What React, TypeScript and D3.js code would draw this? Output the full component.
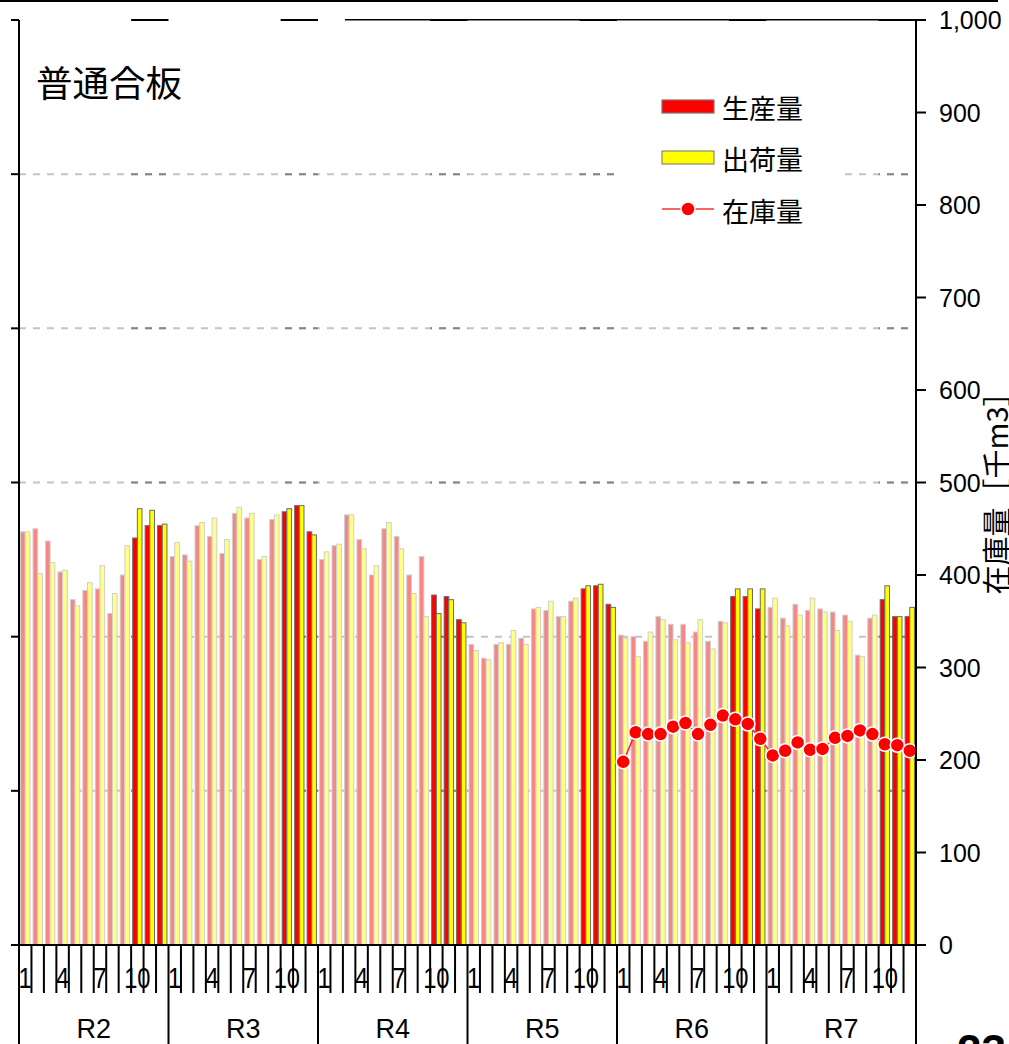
import React from 'react';
import * as d3 from 'd3';

const years = ['R2', 'R3', 'R4', 'R5', 'R6', 'R7'];
const monthLabels = ['1', '', '', '4', '', '', '7', '', '', '10', '', ''];
const highlightMonths = [10, 11, 12];

// 生産量 (left axis, hidden labels)
const production = [
  268, 270, 262, 242, 224, 230, 231, 215, 240, 264, 272, 272,
  252, 253, 272, 265, 254, 280, 277, 250, 276, 281, 285, 268,
  250, 259, 279, 263, 240, 270, 265, 240, 252, 227, 226, 211,
  195, 186, 195, 195, 199, 218, 217, 213, 223, 231, 233, 221,
  201, 200, 197, 213, 208, 208, 203, 197, 210, 226, 226, 218,
  219, 212, 221, 217, 218, 216, 214, 188, 212, 224, 213, 213,
];
// 出荷量
const shipments = [
  268, 241, 248, 243, 220, 235, 246, 228, 259, 283, 282, 273,
  261, 249, 274, 277, 263, 284, 280, 252, 279, 283, 285, 266,
  255, 260, 279, 257, 246, 274, 257, 228, 213, 215, 224, 209,
  191, 185, 196, 204, 195, 219, 223, 213, 225, 233, 234, 219,
  199, 187, 203, 211, 198, 196, 211, 192, 209, 231, 231, 231,
  225, 207, 214, 225, 216, 204, 210, 187, 214, 233, 213, 219,
];
// 在庫量 (right axis), R6-R7 only
const inventory: (number | null)[] = [
  ...Array(48).fill(null),
  198, 230, 228, 228, 236, 240, 228, 238, 248, 244, 239, 223,
  205, 210, 219, 211, 212, 224, 226, 232, 228, 217, 216, 210,
];
const leftTicks = [0, 100, 200, 300, 400, 500, 600];
const rightTicks = [0, 100, 200, 300, 400, 500, 600, 700, 800, 900, 1000];

const W = 1009, H = 1044;
const X0 = 19, X1 = 916, Y0 = 945, Y1 = 20;
const NUM = 'Liberation Sans, Arial, sans-serif';
const JP = '"Noto Sans CJK JP", sans-serif';

export default function App() {
  const n = years.length * 12;
  const idx = d3.range(n);
  const x = d3.scaleBand<number>().domain(idx).range([X0, X1]).paddingInner(0.25).paddingOuter(0.125);
  const step = x.step();
  const sub = d3.scaleBand<string>().domain(['p', 's']).range([0, x.bandwidth()]);
  const yL = d3.scaleLinear().domain([0, 600]).range([Y0, Y1]);
  const yR = d3.scaleLinear().domain([0, 1000]).range([Y0, Y1]);
  const mStart = (i: number) => X0 + i * step;
  const isHi = (i: number) => highlightMonths.includes((i % 12) + 1);
  const fmt = d3.format(',');

  const invPts = idx
    .filter((i) => inventory[i] != null)
    .map((i) => [mStart(i) + step / 2, yR(inventory[i] as number)] as [number, number]);
  const line = d3.line();

  const dash = 7;
  const period = dash * 2;

  return (
    <svg width={W} height={H} style={{ position: 'absolute', left: 0, top: 0, background: '#fff' }}>
      <rect width={W} height={H} fill="#fff" />
      <line x1={0} x2={998} y1={1} y2={1} stroke="#000" strokeWidth={2} />

      {/* top frame (partial) */}
      <line x1={345} x2={X1} y1={19.5} y2={19.5} stroke="#000" strokeWidth={1} />
      <line x1={345} x2={X1} y1={20.5} y2={20.5} stroke="#808080" strokeWidth={1} />
      {years.map((yr, yi) => (
        <line key={'top' + yr} x1={mStart(yi * 12 + 9)} x2={mStart(yi * 12 + 12)} y1={20} y2={20} stroke="#000" strokeWidth={2} />
      ))}

      {/* gridlines */}
      {leftTicks.filter((t) => t > 0 && t < 600).map((t) => (
        <g key={'g' + t}>
          <line x1={X0} x2={X1} y1={yL(t)} y2={yL(t)} stroke="#c4c4c4" strokeWidth={2} strokeDasharray={`${dash},${dash}`} />
          {years.map((yr, yi) => {
            const a = mStart(yi * 12 + 9);
            const b = mStart(yi * 12 + 12);
            return (
              <line key={yr} x1={a} x2={b} y1={yL(t)} y2={yL(t)} stroke="#858585" strokeWidth={2}
                strokeDasharray={`${dash},${dash}`} strokeDashoffset={(a - X0) % period} />
            );
          })}
        </g>
      ))}

      {/* legend background */}
      <rect x={615} y={84} width={230} height={146} fill="#fff" />

      {/* bars */}
      {idx.map((i) => {
        const hi = isHi(i);
        const bx = x(i) as number;
        const bw = sub.bandwidth();
        return (
          <g key={'b' + i}>
            <rect x={bx + (sub('p') as number)} y={yL(production[i])} width={bw} height={Y0 - yL(production[i])}
              fill={hi ? '#ff0000' : '#f58787'} stroke={hi ? '#6b6b6b' : '#cfcfcf'} strokeWidth={1} />
            <rect x={bx + (sub('s') as number)} y={yL(shipments[i])} width={bw} height={Y0 - yL(shipments[i])}
              fill={hi ? '#ffff00' : '#ffff85'} stroke={hi ? '#6b6b6b' : '#cfcfcf'} strokeWidth={1} />
          </g>
        );
      })}

      {/* inventory line */}
      <path d={line(invPts) || ''} fill="none" stroke="#ff2020" strokeWidth={1.5} />
      {invPts.map((p, k) => (
        <circle key={'c' + k} cx={p[0]} cy={p[1]} r={7} fill="#ff0000" stroke="#fff" strokeWidth={1.5} />
      ))}

      {/* axes */}
      <line x1={X0} x2={X0} y1={Y1} y2={Y0} stroke="#000" strokeWidth={2} />
      <line x1={X1} x2={X1} y1={Y1} y2={Y0} stroke="#000" strokeWidth={2} />
      <line x1={11} x2={926} y1={Y0} y2={Y0} stroke="#000" strokeWidth={2} />
      {leftTicks.map((t) => (
        <line key={'lt' + t} x1={11} x2={X0} y1={yL(t)} y2={yL(t)} stroke="#000" strokeWidth={2} />
      ))}
      {rightTicks.map((t) => (
        <g key={'rt' + t}>
          <line x1={X1} x2={926} y1={yR(t)} y2={yR(t)} stroke="#000" strokeWidth={2} />
          <text x={939} y={yR(t)} dominantBaseline="central" fontFamily={NUM} fontSize={25} fill="#000">{fmt(t)}</text>
        </g>
      ))}

      {/* month ticks */}
      {d3.range(n + 1).map((i) => (
        <line key={'mt' + i} x1={mStart(i)} x2={mStart(i)} y1={Y0} y2={i % 12 === 0 ? H : 993}
          stroke="#000" strokeWidth={2} />
      ))}
      {idx.map((i) => {
        const lab = monthLabels[i % 12];
        if (!lab) return null;
        const cx = mStart(i) + step / 2;
        return (
          <text key={'ml' + i} transform={`translate(${cx},988) scale(0.82,1)`} textAnchor="middle"
            fontFamily={NUM} fontSize={29} fill="#000">{lab}</text>
        );
      })}
      {years.map((yr, yi) => (
        <text key={yr} x={mStart(yi * 12 + 6)} y={1038} textAnchor="middle" fontFamily={NUM} fontSize={27} fill="#000">{yr}</text>
      ))}

      {/* title */}
      <text x={36} y={97} fontFamily={JP} fontSize={36.5} fill="#000">普通合板</text>

      {/* legend */}
      <rect x={662} y={100} width={52} height={13} fill="#ff0000" stroke="#8a6a6a" strokeWidth={1.2} />
      <text x={722} y={107} dominantBaseline="central" fontFamily={JP} fontSize={27} fill="#000">生産量</text>
      <rect x={662} y={151} width={52} height={13} fill="#ffff00" stroke="#8a8a6a" strokeWidth={1.2} />
      <text x={722} y={158} dominantBaseline="central" fontFamily={JP} fontSize={27} fill="#000">出荷量</text>
      <line x1={662} x2={714} y1={209} y2={209} stroke="#ff3030" strokeWidth={1.5} />
      <circle cx={688} cy={209} r={7} fill="#ff0000" stroke="#fff" strokeWidth={1.5} />
      <text x={722} y={210} dominantBaseline="central" fontFamily={JP} fontSize={27} fill="#000">在庫量</text>

      {/* right axis title */}
      <text transform="translate(1008,486) rotate(-90)" textAnchor="middle" fontFamily={JP} fontSize={29} fill="#000">在庫量［千m3］</text>

      {/* page number (cut off) */}
      <text x={957} y={1066} fontFamily={NUM} fontWeight="bold" fontSize={44} fill="#000">23</text>
    </svg>
  );
}
